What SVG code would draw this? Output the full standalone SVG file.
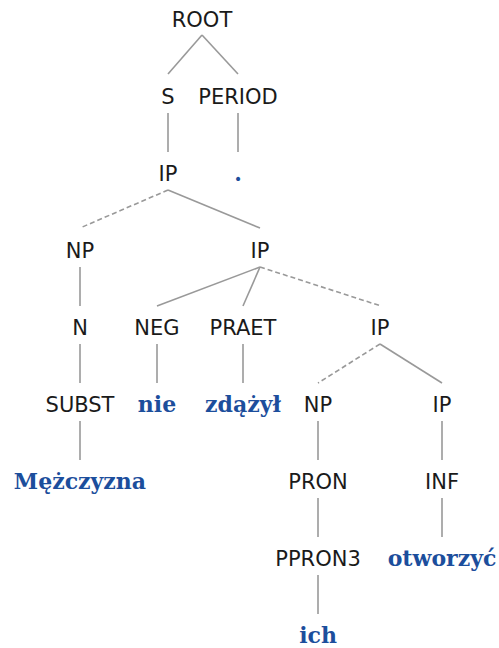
<svg xmlns="http://www.w3.org/2000/svg" width="499" height="648" viewBox="0 0 499 648">
<style>
.l{font-family:"DejaVu Sans",sans-serif;font-size:21px;fill:#1a1a1a;text-anchor:middle}
.w{font-family:"DejaVu Serif",serif;font-weight:bold;font-size:22px;fill:#1c4e9c;text-anchor:middle}
.e{stroke:#999;stroke-width:1.6;fill:none}
.d{stroke-dasharray:5,3}
</style>
<rect width="499" height="648" fill="#fff"/>
<g id="connectors">
<line class="e" x1="202" y1="35" x2="168" y2="74"/>
<line class="e" x1="202" y1="35" x2="238" y2="74"/>
<line class="e" x1="168" y1="113" x2="168" y2="152"/>
<line class="e" x1="238" y1="113" x2="238" y2="152"/>
<line class="e d" x1="168" y1="190" x2="80" y2="228"/>
<line class="e" x1="168" y1="190" x2="260" y2="228"/>
<line class="e" x1="80" y1="267" x2="80" y2="306"/>
<line class="e" x1="260" y1="267" x2="157" y2="306"/>
<line class="e" x1="260" y1="267" x2="243" y2="306"/>
<line class="e d" x1="260" y1="267" x2="381" y2="306"/>
<line class="e" x1="80" y1="344" x2="80" y2="383"/>
<line class="e" x1="157" y1="344" x2="157" y2="383"/>
<line class="e" x1="243" y1="344" x2="243" y2="383"/>
<line class="e d" x1="380" y1="344" x2="318" y2="383"/>
<line class="e" x1="380" y1="344" x2="442" y2="383"/>
<line class="e" x1="80" y1="421" x2="80" y2="460"/>
<line class="e" x1="318" y1="421" x2="318" y2="460"/>
<line class="e" x1="442" y1="421" x2="442" y2="460"/>
<line class="e" x1="318" y1="498" x2="318" y2="537"/>
<line class="e" x1="442" y1="498" x2="442" y2="537"/>
<line class="e" x1="318" y1="575" x2="318" y2="614"/>
</g>
<g id="n-root"><text class="l" x="202" y="27">ROOT</text></g>
<g id="n-s"><text class="l" x="168" y="104">S</text></g>
<g id="n-period"><text class="l" x="238" y="104">PERIOD</text></g>
<g id="n-ip1"><text class="l" x="168" y="181">IP</text></g>
<g id="n-dot"><text class="w" x="238" y="181">.</text></g>
<g id="n-np1"><text class="l" x="80" y="258">NP</text></g>
<g id="n-ip2"><text class="l" x="260" y="258">IP</text></g>
<g id="n-n"><text class="l" x="80" y="335">N</text></g>
<g id="n-neg"><text class="l" x="157" y="335">NEG</text></g>
<g id="n-praet"><text class="l" x="243" y="335">PRAET</text></g>
<g id="n-ip3"><text class="l" x="380" y="335">IP</text></g>
<g id="n-subst"><text class="l" x="80" y="412">SUBST</text></g>
<g id="n-nie"><text class="w" x="157" y="412">nie</text></g>
<g id="n-zdazyl"><text class="w" x="243" y="412">zdążył</text></g>
<g id="n-np2"><text class="l" x="318" y="412">NP</text></g>
<g id="n-ip4"><text class="l" x="442" y="412">IP</text></g>
<g id="n-mezczyzna"><text class="w" x="80" y="489">Mężczyzna</text></g>
<g id="n-pron"><text class="l" x="318" y="489">PRON</text></g>
<g id="n-inf"><text class="l" x="442" y="489">INF</text></g>
<g id="n-ppron3"><text class="l" x="318" y="566">PPRON3</text></g>
<g id="n-otworzyc"><text class="w" x="442" y="566">otworzyć</text></g>
<g id="n-ich"><text class="w" x="318" y="643">ich</text></g>
</svg>
